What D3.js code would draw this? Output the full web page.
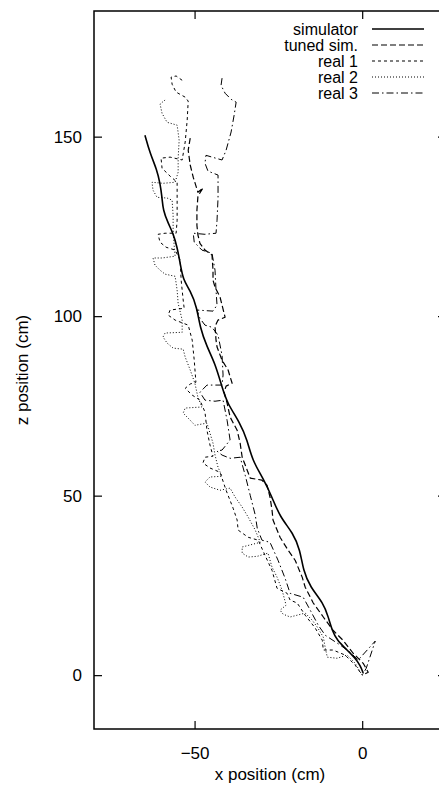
<!DOCTYPE html>
<html><head><meta charset="utf-8">
<script src="https://cdn.jsdelivr.net/npm/d3@7"></script>
<style>body{margin:0;background:#fff}svg{display:block}text{font-family:"Liberation Sans",Arial,sans-serif;font-size:17px;fill:#000}</style>
</head><body>
<script>
const xTicks = [-50, 0];
const zTicks = [0, 50, 100, 150];
const seriesNames = ["simulator", "tuned sim.", "real 1", "real 2", "real 3"];

const simX = [-64.8,-63.3,-61.2,-60.3,-59.7,-59.4,-57.9,-56.4,-55.2,-54.3,-53.4,-51.3,-49.3,-48.4,-46.3,-43.9,-41.8,-40.3,-36.4,-34.3,-32.8,-29.6,-26.9,-24.5,-20.6,-18.5,-17.6,-15.5,-11.6,-10.1,-9.0,-7.5,-4.5,-2.1,-0.6,0.3];
const simZ = [150.4,145.4,140.7,137.0,133.1,129.5,125.9,123.1,119.2,114.8,110.0,107.2,102.5,96.9,91.4,86.9,80.2,75.8,70.2,65.5,59.9,54.9,49.6,44.0,39.6,34.8,29.2,24.5,20.1,16.2,12.5,9.7,7.0,4.7,2.8,0.6];

const tunedX = [-51.3,-51.9,-51.3,-50.4,-49.0,-47.5,-49.0,-49.3,-49.3,-49.0,-48.4,-46.9,-44.8,-44.5,-44.5,-43.9,-42.4,-40.9,-43.0,-43.9,-43.6,-43.3,-41.8,-40.0,-38.8,-40.6,-41.2,-40.3,-39.4,-37.3,-36.4,-35.8,-34.3,-33.4,-29.9,-28.4,-27.5,-26.9,-26.6,-24.5,-22.1,-20.0,-17.9,-17.0,-14.6,-11.6,-8.7,-5.7,-2.7,0.3,1.8,0];
const tunedZ = [149.6,146.2,142.1,138.7,134.5,135.7,133.4,129.5,125.3,122.6,120.3,118.4,117.0,112.8,110.0,108.1,105.3,99.7,98.9,97.2,93.3,91.4,87.7,85.0,81.3,80.5,78.8,75.8,71.9,68.2,64.6,60.7,57.1,54.9,54.3,52.9,49.6,46.0,43.2,38.4,34.8,32.0,27.3,24.5,20.1,16.2,12.5,9.7,6.1,3.3,0.8,0];

const real1X = [-53.7,-55.5,-57.0,-56.7,-55.5,-52.8,-51.9,-52.2,-52.8,-53.7,-57.3,-60.0,-59.7,-57.3,-55.2,-55.2,-55.2,-55.5,-58.8,-60.9,-60.3,-58.5,-55.8,-54.3,-54.0,-53.4,-53.1,-57.3,-57.9,-55.8,-51.9,-50.7,-50.1,-49.6,-51.3,-52.8,-50.7,-48.4,-46.9,-46.3,-45.4,-44.5,-46.9,-47.5,-45.4,-42.4,-40.6,-38.5,-37.3,-37.0,-34.0,-31.0,-29.0,-26.9,-25.4,-22.4,-21.5,-19.4,-17.0,-14.0,-11.9,-11.6,-8.7,-5.1,-2.1,0];
const real1Z = [165.7,166.9,166.6,164.6,162.4,161.0,159.9,154.6,148.5,143.5,144.3,144.0,141.2,139.0,137.3,132.3,126.7,123.1,123.1,122.8,120.6,119.2,118.4,115.6,110.0,104.5,102.2,101.7,100.3,98.9,97.5,93.3,87.7,81.6,81.1,79.9,78.0,76.6,73.3,68.2,64.1,61.0,60.7,59.1,57.7,56.5,51.5,46.5,43.2,40.4,38.4,37.6,33.4,29.2,24.2,22.8,20.9,20.1,16.7,13.1,9.7,7.0,7.0,5.6,2.8,0];

const real2X = [-58.8,-60.3,-59.7,-58.2,-55.2,-54.6,-54.9,-54.9,-55.8,-59.4,-62.7,-62.4,-61.2,-58.2,-56.7,-56.4,-56.4,-56.1,-55.8,-59.7,-62.4,-61.8,-60.3,-58.8,-55.8,-55.2,-54.9,-53.7,-53.7,-58.8,-59.4,-58.2,-56.4,-53.4,-52.8,-51.3,-49.9,-49.0,-47.8,-52.8,-53.4,-51.3,-49.9,-46.3,-45.4,-44.5,-43.9,-43.0,-41.8,-45.4,-46.9,-45.4,-42.4,-39.4,-37.9,-35.8,-34.0,-31.9,-30.4,-35.8,-35.8,-34.0,-31.3,-28.1,-26.9,-25.4,-23.9,-22.7,-24.5,-23.6,-21.5,-19.4,-17.0,-14.9,-13.4,-11.6,-11.0,-10.4,-7.5,-4.5,-2.1,0];
const real2Z = [160.2,159.1,156.5,154.0,153.2,149.0,144.0,140.1,137.3,137.0,137.3,135.1,133.1,132.9,132.3,128.1,124.0,119.8,116.7,116.2,116.2,114.2,112.8,111.7,111.1,107.2,103.6,98.9,95.5,95.3,94.2,92.5,91.1,90.8,88.6,85.0,81.3,77.4,74.7,74.4,73.0,71.0,69.6,70.2,67.4,64.6,61.3,57.9,55.4,55.2,53.8,52.4,51.5,52.1,49.6,46.8,44.0,40.4,37.0,35.7,34.0,32.9,33.1,34.0,30.1,27.3,23.7,19.5,18.1,17.0,16.2,16.7,17.3,15.3,13.4,10.6,7.5,5.0,4.7,5.6,3.3,0];

const real3X = [-41.8,-42.1,-40.9,-39.1,-37.6,-38.2,-39.1,-40.6,-41.8,-44.8,-46.6,-46.9,-46.0,-43.0,-43.0,-43.3,-43.6,-46.9,-50.4,-50.1,-47.8,-44.8,-43.9,-43.6,-43.3,-44.5,-49.3,-48.4,-46.9,-44.8,-43.0,-41.8,-41.5,-41.8,-46.3,-48.4,-46.9,-43.9,-41.5,-40.3,-39.4,-41.8,-43.3,-41.8,-39.4,-36.4,-34.9,-33.4,-31.9,-31.3,-29.9,-27.5,-25.1,-23.0,-21.5,-17.6,-15.5,-13.1,-11.0,-6.6,-3.6,-1.2,3.9,1.2,0];
const real3Z = [166.3,164.3,162.1,160.4,159.6,156.0,151.3,146.2,143.5,144.3,144.8,142.6,140.4,139.3,132.9,126.7,123.1,122.8,123.1,120.6,118.4,117.5,112.8,107.2,103.1,101.4,101.7,99.4,97.5,96.9,94.7,89.1,83.6,80.8,80.8,78.8,76.6,76.3,76.6,71.0,65.5,62.7,62.4,61.3,60.4,60.7,55.7,50.1,44.6,40.9,37.6,37.0,32.0,27.0,22.8,21.7,18.1,13.9,11.1,8.4,6.4,4.2,9.5,1.9,0];

const W = 439, H = 785;
const m = {left: 94, top: 11, right: 446, bottom: 729};
const x = d3.scaleLinear().domain([-80, 25]).range([m.left, m.right]);
const y = d3.scaleLinear().domain([-15, 185]).range([m.bottom, m.top]);

const svg = d3.select("body").append("svg").attr("width", W).attr("height", H);

const styles = [
  {dash: null, w: 1.6},
  {dash: "6,3", w: 1.2},
  {dash: "3,3", w: 1},
  {dash: "1,2", w: 1},
  {dash: "7,3,1.5,3", w: 1}
];
const series = [[simX, simZ], [tunedX, tunedZ], [real1X, real1Z], [real2X, real2Z], [real3X, real3Z]];

const g = svg.append("g");
svg.append("clipPath").attr("id", "c").append("rect")
  .attr("x", m.left).attr("y", m.top).attr("width", m.right - m.left).attr("height", m.bottom - m.top);
g.attr("clip-path", "url(#c)");

series.forEach((s, i) => {
  const pts = s[0].map((v, k) => [v, s[1][k]]);
  const line = d3.line().x(d => x(d[0])).y(d => y(d[1]))
    .curve(i === 0 ? d3.curveBasis : d3.curveLinear);
  g.append("path").attr("d", line(pts)).attr("fill", "none")
    .attr("stroke", "#000").attr("stroke-width", styles[i].w)
    .attr("stroke-dasharray", styles[i].dash).attr("stroke-linejoin", "round");
});

// frame
svg.append("rect").attr("x", m.left).attr("y", m.top)
  .attr("width", m.right - m.left).attr("height", m.bottom - m.top)
  .attr("fill", "none").attr("stroke", "#000").attr("stroke-width", 1.5);

// axes with inward ticks (mirrored)
const tl = 8;
const axB = d3.axisBottom(x).tickValues(xTicks).tickSize(-tl).tickPadding(18).tickFormat(d3.format("d"));
const axT = d3.axisTop(x).tickValues(xTicks).tickSize(-tl).tickFormat("");
const axL = d3.axisLeft(y).tickValues(zTicks).tickSize(-tl).tickPadding(12).tickFormat(d3.format("d"));
const axR = d3.axisRight(y).tickValues(zTicks).tickSize(-tl).tickFormat("");
[[axB, `translate(0,${m.bottom})`], [axT, `translate(0,${m.top})`], [axL, `translate(${m.left},0)`], [axR, `translate(${m.right},0)`]]
  .forEach(([a, t]) => {
    const ag = svg.append("g").attr("transform", t).call(a);
    ag.select(".domain").remove();
    ag.selectAll("line").attr("stroke", "#000").attr("stroke-width", 1.2);
    ag.selectAll("text").attr("font-size", 17).attr("font-family", '"Liberation Sans",Arial,sans-serif').attr("fill", "#000");
  });

svg.append("text").attr("x", (m.left + m.right) / 2).attr("y", 780).attr("text-anchor", "middle").text("x position (cm)");
svg.append("text").attr("transform", `translate(28,${(m.top + m.bottom) / 2}) rotate(-90)`)
  .attr("text-anchor", "middle").text("z position (cm)");

// legend
const lg = svg.append("g");
seriesNames.forEach((n, i) => {
  const yy = 29 + i * 16;
  lg.append("text").attr("x", 358).attr("y", yy).attr("dy", "0.35em").attr("text-anchor", "end")
    .style("font-size", "16px").text(n);
  lg.append("line").attr("x1", 372).attr("x2", 424).attr("y1", yy).attr("y2", yy)
    .attr("stroke", "#000").attr("stroke-width", styles[i].w).attr("stroke-dasharray", styles[i].dash);
});
</script>
</body></html>
